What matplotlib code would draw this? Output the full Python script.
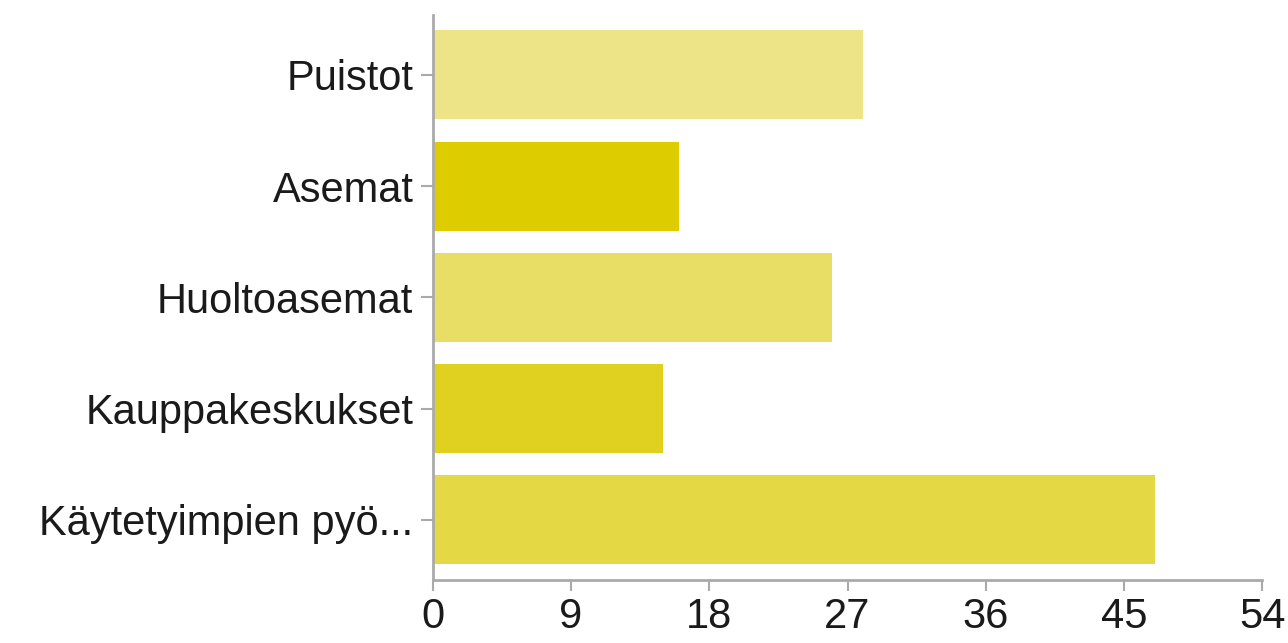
import matplotlib
matplotlib.use('Agg')
import matplotlib.pyplot as plt

# data
labels = ["Puistot", "Asemat", "Huoltoasemat", "Kauppakeskukset", "Käytetyimpien pyö..."]
counts = [28, 16, 26, 15, 47]
colors = ["#ede488", "#dccc00", "#e8de66", "#e0d020", "#e5d845"]
xticks = [0, 9, 18, 27, 36, 45, 54]

plt.rcParams['font.family'] = ['Liberation Sans', 'DejaVu Sans']

fig = plt.figure(figsize=(12.88, 6.43), dpi=100)
ax = fig.add_axes([0.336, 0.098, 0.644, 0.879])

pos = list(range(len(labels)))
ax.barh(pos, counts, height=0.8, color=colors)
ax.set_ylim(len(labels) - 1 + 0.54, -0.54)
ax.set_xlim(0, 54)
ax.set_xticks(xticks)
ax.set_yticks(pos)
ax.set_yticklabels(labels)

for s in ["top", "right"]:
    ax.spines[s].set_visible(False)
for s in ["left", "bottom"]:
    ax.spines[s].set_color("#aaaaaa")
    ax.spines[s].set_linewidth(2)

ax.tick_params(axis="x", length=8, width=1.5, color="#aaaaaa", labelsize=30,
               labelcolor="#1a1a1a", pad=4)
ax.tick_params(axis="y", length=9, width=1.5, color="#aaaaaa", labelsize=30,
               labelcolor="#1a1a1a", pad=5)

fig.savefig("out.png", dpi=100)
